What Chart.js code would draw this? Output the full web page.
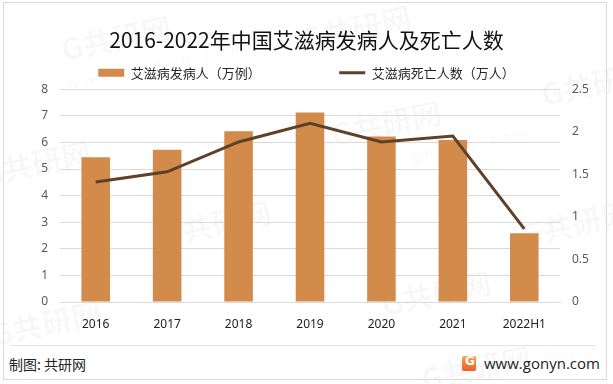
<!DOCTYPE html>
<html>
<head>
<meta charset="utf-8">
<script src="https://cdn.jsdelivr.net/npm/chart.js@4.4.1/dist/chart.umd.min.js"></script>
<style>
  html, body { margin: 0; padding: 0; background: #fff; }
  #wrap { position: relative; width: 613px; height: 384px; overflow: hidden;
          font-family: "Noto Sans CJK SC", "Noto Sans", sans-serif; }
  #frame { position: absolute; left: 3px; top: 2px; width: 604px; height: 378px;
           border: 1px solid #d9d9d9; box-sizing: border-box; }
  #sep { position: absolute; left: 10px; top: 345px; width: 586px; height: 1px; background: #e3e3e3; }
  #src { position: absolute; left: 9px; top: 354px; font-size: 14px; color: #222; }
  #site { position: absolute; left: 484px; top: 353px; font-size: 15px; color: #222;
          font-family: "Open Sans", "Noto Sans", sans-serif; }
  #logo { position: absolute; left: 462px; top: 356px; width: 14px; height: 15px;
          background: linear-gradient(#f7a24a, #e9602a); border-radius: 2px; }
  #logo span { position: absolute; left: 3px; top: -2px; color: #fff; font: bold 12px "DejaVu Sans"; }
  .wm { position: absolute; color: rgba(0,0,0,0.032); font-weight: bold; transform: rotate(-12deg);
        white-space: nowrap; }
  canvas { position: absolute; left: 0; top: 0; }
</style>
</head>
<body>
<div id="wrap">
  <div class="wm" style="left:60px;top:15px;font-size:30px;">G共研网</div>
  <div class="wm" style="left:65px;top:55px;font-size:13px;letter-spacing:6px;">www.gonyn.com</div>
  <div class="wm" style="left:300px;top:5px;font-size:30px;">G共研网</div>
  <div class="wm" style="left:330px;top:100px;font-size:30px;">G共研网</div>
  <div class="wm" style="left:350px;top:140px;font-size:13px;letter-spacing:6px;">www.gonyn.com</div>
  <div class="wm" style="left:-20px;top:140px;font-size:30px;">G共研网</div>
  <div class="wm" style="left:540px;top:60px;font-size:30px;">G共研网</div>
  <div class="wm" style="left:160px;top:200px;font-size:30px;">G共研网</div>
  <div class="wm" style="left:520px;top:200px;font-size:30px;">G共研网</div>
  <div class="wm" style="left:-10px;top:300px;font-size:30px;">G共研网</div>
  <div class="wm" style="left:380px;top:270px;font-size:30px;">G共研网</div>
  <div class="wm" style="left:420px;top:345px;font-size:30px;">G共研网</div>
  <div id="frame"></div>
  <div id="sep"></div>
  <div id="src">制图: 共研网</div>
  <div id="logo"><span>G</span></div>
  <div id="site">www.gonyn.com</div>
  <canvas id="c" width="613" height="384"></canvas>
</div>
<script>
/* ====== DATA ====== */
var years = ["2016", "2017", "2018", "2019", "2020", "2021", "2022H1"];
var newCases = [5.44, 5.72, 6.42, 7.12, 6.22, 6.09, 2.58];   // 万例
var deaths = [1.41, 1.53, 1.88, 2.10, 1.88, 1.95, 0.86];      // 万人
var leftTicks = [0, 1, 2, 3, 4, 5, 6, 7, 8];
var rightTicks = [0, 0.5, 1, 1.5, 2, 2.5];

var BAR = "#D38B4C";
var LINE = "#5E4128";
var TICK = "#595959";

/* ====== CHART ====== */
var ctx = document.getElementById("c").getContext("2d");
var chart = new Chart(ctx, {
    data: {
        labels: years,
        datasets: [
            {
                type: "bar",
                label: "艾滋病发病人（万例）",
                data: newCases,
                backgroundColor: BAR,
                borderWidth: 0,
                barPercentage: 0.8,
                categoryPercentage: 0.5,
                pointStyle: "rect",
                yAxisID: "y",
                order: 2
            },
            {
                type: "line",
                label: "艾滋病死亡人数（万人）",
                data: deaths,
                borderColor: LINE,
                backgroundColor: LINE,
                borderWidth: 3,
                pointRadius: 0,
                pointHoverRadius: 0,
                pointStyle: "line",
                tension: 0,
                yAxisID: "y1",
                order: 1
            }
        ]
    },
    options: {
        responsive: false,
        animation: false,
        layout: { padding: { left: 0, right: 0, top: 0, bottom: 52 } },
        plugins: {
            title: {
                display: true,
                text: "2016-2022年中国艾滋病发病人及死亡人数",
                color: "#111",
                font: { size: 21, family: "'Noto Sans CJK SC'", weight: "normal" },
                padding: { top: 27, bottom: 7 }
            },
            legend: {
                display: true,
                labels: {
                    usePointStyle: true,
                    pointStyleWidth: 26,
                    boxHeight: 8,
                    padding: 7,
                    color: "#262626",
                    font: { size: 13, family: "'Noto Sans CJK SC'" },
                    generateLabels: function (c) {
                        var items = Chart.defaults.plugins.legend.labels.generateLabels(c);
                        items.sort(function (a, b) { return a.datasetIndex - b.datasetIndex; });
                        if (items[0]) items[0].text += "\u3000\u3000\u3000\u3000\u3000\u3000";
                        return items;
                    }
                }
            },
            tooltip: { enabled: false }
        },
        scales: {
            x: {
                grid: { display: false },
                border: { color: "#d9d9d9" },
                ticks: { color: "#222", padding: 7, font: { size: 12, family: "'Noto Sans'" } },
                afterFit: function (s) { s.height = 30; }
            },
            y: {
                position: "left",
                min: 0, max: 8,
                afterBuildTicks: function (s) { s.ticks = leftTicks.map(function (v) { return { value: v }; }); },
                grid: { color: "#d9d9d9", drawTicks: false },
                border: { display: false },
                ticks: { color: TICK, padding: 12, font: { size: 12, family: "'Noto Sans'" },
                         callback: function (v) { return String(v); } },
                afterFit: function (s) { s.width = 60; }
            },
            y1: {
                position: "right",
                min: 0, max: 2.5,
                afterBuildTicks: function (s) { s.ticks = rightTicks.map(function (v) { return { value: v }; }); },
                grid: { display: false, drawTicks: false },
                border: { display: false },
                ticks: { color: TICK, padding: 12, font: { size: 12, family: "'Noto Sans'" },
                         callback: function (v) { return String(v); } },
                afterFit: function (s) { s.width = 53; }
            }
        }
    }
});
</script>
</body>
</html>
